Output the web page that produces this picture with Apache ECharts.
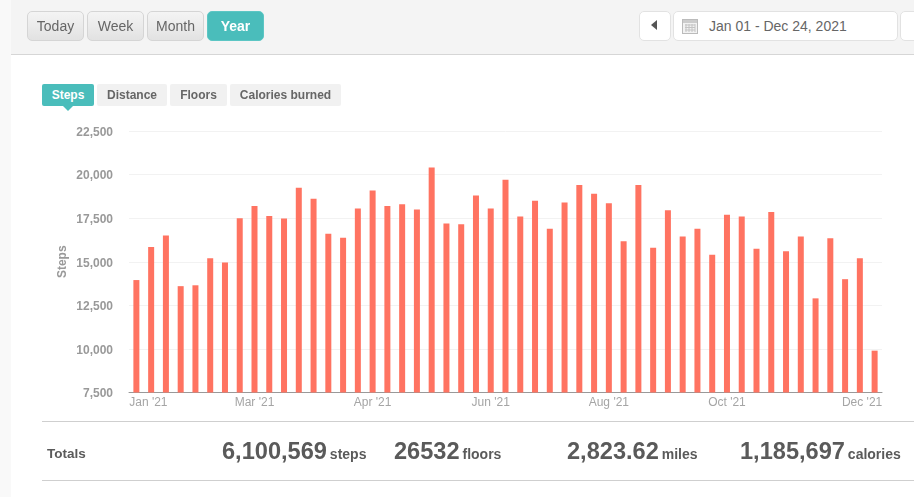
<!DOCTYPE html>
<html><head><meta charset="utf-8">
<script src="https://cdn.jsdelivr.net/npm/echarts@6/dist/echarts.min.js"></script>
<style>
html,body{margin:0;padding:0;width:914px;height:497px;overflow:hidden;background:#f9f9f9;font-family:"Liberation Sans",Arial,sans-serif;}
#page{position:absolute;left:11px;top:0;width:903px;height:497px;background:#fff;}
#bar{position:absolute;left:11px;top:0;width:903px;height:54px;background:#f4f4f4;border-bottom:1px solid #d6d6d6;}
#chart{position:absolute;left:0;top:0;width:914px;height:497px;}
.abs{position:absolute;box-sizing:border-box;white-space:nowrap;}
.btn{top:11px;height:30px;width:57px;line-height:28px;text-align:center;font-size:14px;color:#666;border:1px solid #d5d5d5;border-radius:5px;background:linear-gradient(#f4f4f4,#e2e2e2);}
.btn.on{background:#4abdbb;border-color:#5cc6c4;color:#fff;font-weight:bold;}
.box{top:11px;height:30px;background:#fff;border:1px solid #e2e2e2;border-radius:5px;}
.tab{top:84px;height:22px;line-height:22px;text-align:center;font-size:12px;font-weight:bold;color:#666;background:#f1f1f1;border-radius:2px;}
.tab.on{background:#4abdbb;color:#fff;}
.rule{left:42px;width:872px;height:1px;background:#cfcfcf;}
.tot{top:436px;height:30px;line-height:30px;color:#5a5a5a;font-weight:bold;font-size:14px;}
.tot b{font-size:23.6px;margin-right:-1px;}
</style></head><body>
<div id="page"></div><div id="bar"></div>
<div id="chart"></div>
<div id="ui"></div>
<script>
const categories = ["Jan '21","Jan '21","Jan '21","Jan '21","Feb '21","Feb '21","Feb '21","Feb '21",
 "Mar '21","Mar '21","Mar '21","Mar '21","Mar '21","Apr '21","Apr '21","Apr '21",
 "Apr '21","May '21","May '21","May '21","May '21","May '21","Jun '21","Jun '21",
 "Jun '21","Jun '21","Jul '21","Jul '21","Jul '21","Jul '21","Aug '21","Aug '21",
 "Aug '21","Aug '21","Aug '21","Sep '21","Sep '21","Sep '21","Sep '21","Oct '21",
 "Oct '21","Oct '21","Oct '21","Nov '21","Nov '21","Nov '21","Nov '21","Nov '21",
 "Dec '21","Dec '21","Dec '21"];
const steps = [13950,15850,16500,13600,13650,15200,14950,17500,18200,17620,17480,19250,18620,
 16600,16380,18050,19080,18200,18300,18000,20400,17200,17150,18800,18050,19700,17600,18500,
 16900,18400,19400,18900,18350,16180,19400,15800,17950,16450,16900,15400,17700,17600,15750,
 17850,15600,16450,12900,16350,14000,15200,9900];
const rangeButtons = ["Today","Week","Month","Year"];
const metricTabs = ["Steps","Distance","Floors","Calories burned"];
const dateRange = "Jan 01 - Dec 24, 2021";
const totalValues = ["6,100,569","26532","2,823.62","1,185,697"];
const totalUnits = ["steps","floors","miles","calories"];

const ui = document.getElementById('ui');
function add(cls, css, html){const d=document.createElement('div');d.className='abs '+cls;d.style.cssText=css;d.innerHTML=html;ui.appendChild(d);return d;}
[27,87,147,207].forEach((x,i)=>add('btn'+(i===3?' on':''),`left:${x}px`,rangeButtons[i]));
add('box','left:639px;width:32px;','<div class="abs" style="left:11px;top:8px;border:5px solid transparent;border-right:6px solid #555;border-left:0;"></div>');
add('box','left:673px;width:225px;line-height:28px;font-size:14px;color:#666;padding-left:35px;',
 dateRange+'<svg class="abs" style="left:8px;top:6px" width="16" height="16"><rect x="0.5" y="1.5" width="15" height="14" fill="#f2f2f2" stroke="#bbb"/><rect x="1" y="2" width="14" height="3" fill="#ccc"/><path d="M3 7h10M3 9.5h10M3 12h10M4 6v8M7 6v8M10 6v8M13 6v8" stroke="#c4c4c4" stroke-width="1"/></svg>');
add('box','left:900px;width:30px;','');
const tabs=[[42,52],[97,70],[170,57],[230,111]];
tabs.forEach((t,i)=>add('tab'+(i===0?' on':''),`left:${t[0]}px;width:${t[1]}px`,metricTabs[i]));
add('','left:63px;top:106px;width:0;height:0;border:5px solid transparent;border-top:5px solid #4abdbb;border-bottom:0;','');
add('rule','top:421px','');add('rule','top:480px','');
add('tot','left:47px;top:439px;font-size:13.5px;','Totals');
[222,394,567,740].forEach((x,i)=>add('tot',`left:${x}px`,`<b>${totalValues[i]}</b> ${totalUnits[i]}`));

const chart = echarts.init(document.getElementById('chart'),null,{renderer:'canvas'});
const shift = {0:24,48:34};
chart.setOption({
 animation:false,
 grid:{left:129,top:131,width:753,height:261.5,containLabel:false},
 xAxis:{type:'category',
  data:categories.map((c,i)=>shift[i]?{value:c,textStyle:{padding:[0,0,0,shift[i]]}}:c),
  axisTick:{show:false},
  axisLine:{lineStyle:{color:'#999',width:1}},
  axisLabel:{interval:7,color:'#a5a5a5',fontSize:12,margin:4,fontFamily:'Liberation Sans',hideOverlap:false}},
 yAxis:{type:'value',min:7500,max:22500,interval:2500,
  name:'Steps',nameLocation:'middle',nameGap:60,nameRotate:90,nameMoveOverlap:false,
  nameTextStyle:{color:'#999',fontWeight:'bold',fontSize:12,fontFamily:'Liberation Sans'},
  axisLine:{show:false},axisTick:{show:false},
  splitLine:{lineStyle:{color:'#f2f2f2',width:1}},
  axisLabel:{margin:16,
   formatter:v=>'{t|'+v.toLocaleString('en-US')+'}',
   rich:{t:{color:'#999',fontWeight:'bold',fontSize:12,padding:[3,0,0,0],fontFamily:'Liberation Sans'}}}},
 series:[{type:'bar',data:steps,barWidth:6,itemStyle:{color:'#ff7361'}}]
});
</script></body></html>
